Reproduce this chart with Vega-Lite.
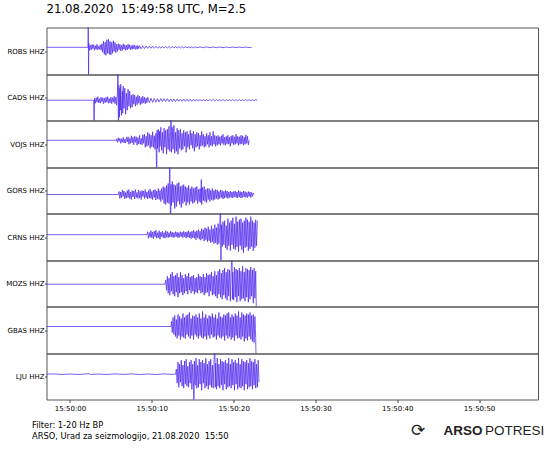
{
"$schema": "https://vega.github.io/schema/vega-lite/v6.json",
"background": "white",
"padding": {"left": 4.5, "top": 3.5, "right": 0, "bottom": 0},
"title": {"text": "21.08.2020\u00a0 15:49:58 UTC, M=2.5", "anchor": "start", "frame": "group", "font": "DejaVu Sans", "fontSize": 11.7, "fontWeight": "normal", "color": "black", "offset": 11},
"config": {
  "font": "DejaVu Sans",
  "view": {"continuousWidth": 491.5, "stroke": "#555", "strokeWidth": 1},
  "line": {"color": "#5028f0", "strokeWidth": 0.75},
  "axisY": {"tickSize": 2, "labelPadding": 0.5, "labelFont": "DejaVu Sans", "labelFontSize": 7, "labelColor": "black", "tickColor": "#444", "domain": false, "grid": false},
  "axisX": {"tickSize": 3, "labelPadding": 2, "labelFont": "DejaVu Sans", "labelFontSize": 7, "labelColor": "black", "tickColor": "#444", "domain": false, "grid": false}
},
"datasets": {
"ROBS": [{"t":-2.9,"a":0},{"t":2.2,"a":0},{"t":2.24,"a":40},{"t":2.27,"a":-40},{"t":2.3,"a":4},{"t":2.4,"a":-3},{"t":2.5,"a":2},{"t":2.6,"a":-2.5},{"t":2.7,"a":3},{"t":2.8,"a":-1.5},{"t":2.9,"a":2.5},{"t":3.0,"a":-3},{"t":3.1,"a":1.5},{"t":3.2,"a":-2},{"t":3.3,"a":3},{"t":3.4,"a":-2.5},{"t":3.5,"a":1},{"t":3.6,"a":-2},{"t":3.7,"a":2.5},{"t":3.8,"a":-3},{"t":3.9,"a":3.5},{"t":4.0,"a":-5},{"t":4.1,"a":6},{"t":4.2,"a":-7},{"t":4.3,"a":5},{"t":4.4,"a":-8},{"t":4.5,"a":7.5},{"t":4.6,"a":-6},{"t":4.7,"a":8},{"t":4.8,"a":-7},{"t":4.9,"a":6},{"t":5.0,"a":-7.5},{"t":5.1,"a":5},{"t":5.2,"a":-6},{"t":5.3,"a":6.5},{"t":5.4,"a":-4},{"t":5.5,"a":5},{"t":5.6,"a":-5.5},{"t":5.7,"a":3},{"t":5.8,"a":-4},{"t":5.9,"a":3.5},{"t":6.0,"a":-2.5},{"t":6.1,"a":3},{"t":6.2,"a":-3.5},{"t":6.3,"a":2},{"t":6.4,"a":-3},{"t":6.5,"a":3.5},{"t":6.6,"a":-2},{"t":6.7,"a":2.5},{"t":6.8,"a":-3},{"t":6.9,"a":2},{"t":7.0,"a":-2.5},{"t":7.1,"a":3},{"t":7.2,"a":-1.5},{"t":7.3,"a":2.5},{"t":7.4,"a":-2.5},{"t":7.5,"a":1.5},{"t":7.6,"a":-2},{"t":7.7,"a":2.5},{"t":7.8,"a":-1.5},{"t":7.9,"a":2},{"t":8.0,"a":-2},{"t":8.1,"a":1.5},{"t":8.2,"a":-2},{"t":8.3,"a":1.8},{"t":8.4,"a":-1.3},{"t":8.5,"a":1.6},{"t":8.7,"a":-1.5},{"t":8.9,"a":1.4},{"t":9.1,"a":-1.2},{"t":9.3,"a":1.3},{"t":9.5,"a":-1.1},{"t":9.7,"a":1.2},{"t":9.9,"a":-1.0},{"t":10.1,"a":1.1},{"t":10.3,"a":-0.9},{"t":10.5,"a":1.0},{"t":10.7,"a":-1.0},{"t":10.9,"a":0.8},{"t":11.1,"a":-0.9},{"t":11.3,"a":0.9},{"t":11.5,"a":-0.8},{"t":11.7,"a":0.8},{"t":11.9,"a":-0.7},{"t":12.1,"a":0.8},{"t":12.3,"a":-0.7},{"t":12.5,"a":0.7},{"t":12.7,"a":-0.6},{"t":12.9,"a":0.7},{"t":13.1,"a":-0.6},{"t":13.3,"a":0.6},{"t":13.5,"a":-0.6},{"t":13.7,"a":0.6},{"t":13.9,"a":-0.5},{"t":14.1,"a":0.6},{"t":14.3,"a":-0.5},{"t":14.5,"a":0.5},{"t":14.7,"a":-0.5},{"t":14.9,"a":0.5},{"t":15.1,"a":-0.5},{"t":15.3,"a":0.5},{"t":15.5,"a":-0.4},{"t":15.9,"a":0.4},{"t":16.3,"a":-0.4},{"t":16.7,"a":0.4},{"t":17.1,"a":-0.4},{"t":17.5,"a":0.35},{"t":17.9,"a":-0.35},{"t":18.3,"a":0.35},{"t":18.7,"a":-0.35},{"t":19.1,"a":0.3},{"t":19.5,"a":-0.3},{"t":19.9,"a":0.3},{"t":20.3,"a":-0.3},{"t":20.7,"a":0.3},{"t":21.1,"a":-0.3},{"t":21.5,"a":0.3},{"t":21.9,"a":-0.3},{"t":22.2,"a":0}],
"CADS": [{"t":-2.9,"a":0},{"t":2.9,"a":0},{"t":2.95,"a":-40},{"t":3.0,"a":2},{"t":3.1,"a":-3},{"t":3.2,"a":2.5},{"t":3.3,"a":-2},{"t":3.4,"a":3.5},{"t":3.5,"a":-2.5},{"t":3.6,"a":1.5},{"t":3.7,"a":-3},{"t":3.8,"a":3},{"t":3.9,"a":-1.5},{"t":4.0,"a":2.5},{"t":4.1,"a":-3.5},{"t":4.2,"a":2},{"t":4.3,"a":-2.5},{"t":4.4,"a":3},{"t":4.5,"a":-2},{"t":4.6,"a":3.5},{"t":4.7,"a":-3},{"t":4.8,"a":1.5},{"t":4.9,"a":-2.5},{"t":5.0,"a":3},{"t":5.1,"a":-3.5},{"t":5.2,"a":2.5},{"t":5.3,"a":-2},{"t":5.4,"a":4},{"t":5.5,"a":-3.5},{"t":5.6,"a":3},{"t":5.7,"a":-5},{"t":5.8,"a":8},{"t":5.87,"a":40},{"t":5.92,"a":-40},{"t":5.97,"a":15},{"t":6.05,"a":-17},{"t":6.1,"a":12},{"t":6.15,"a":-10},{"t":6.2,"a":16},{"t":6.3,"a":-15},{"t":6.4,"a":9},{"t":6.45,"a":-13},{"t":6.5,"a":14},{"t":6.6,"a":-8},{"t":6.7,"a":12},{"t":6.8,"a":-14},{"t":6.9,"a":7},{"t":7.0,"a":-10},{"t":7.1,"a":11},{"t":7.2,"a":-6},{"t":7.3,"a":9},{"t":7.4,"a":-8},{"t":7.5,"a":5},{"t":7.6,"a":-7},{"t":7.7,"a":6},{"t":7.8,"a":-4},{"t":7.9,"a":5},{"t":8.0,"a":-6},{"t":8.1,"a":3.5},{"t":8.2,"a":-4.5},{"t":8.3,"a":5},{"t":8.4,"a":-3},{"t":8.5,"a":4},{"t":8.6,"a":-4.5},{"t":8.7,"a":2.5},{"t":8.8,"a":-3.5},{"t":8.9,"a":4},{"t":9.0,"a":-2.5},{"t":9.1,"a":3},{"t":9.2,"a":-3.5},{"t":9.3,"a":2},{"t":9.4,"a":-2.5},{"t":9.5,"a":3},{"t":9.7,"a":-2.5},{"t":9.9,"a":2},{"t":10.1,"a":-2.2},{"t":10.3,"a":1.8},{"t":10.5,"a":-2},{"t":10.7,"a":1.6},{"t":10.9,"a":-1.8},{"t":11.1,"a":1.7},{"t":11.3,"a":-1.5},{"t":11.5,"a":1.6},{"t":11.7,"a":-1.4},{"t":11.9,"a":1.5},{"t":12.1,"a":-1.4},{"t":12.3,"a":1.3},{"t":12.5,"a":-1.4},{"t":12.7,"a":1.2},{"t":12.9,"a":-1.3},{"t":13.1,"a":1.2},{"t":13.3,"a":-1.2},{"t":13.5,"a":1.1},{"t":13.7,"a":-1.2},{"t":13.9,"a":1.1},{"t":14.1,"a":-1.1},{"t":14.3,"a":1.0},{"t":14.5,"a":-1.1},{"t":14.7,"a":1.0},{"t":14.9,"a":-1.0},{"t":15.1,"a":1.0},{"t":15.3,"a":-1.0},{"t":15.5,"a":0.9},{"t":15.7,"a":-1.0},{"t":15.9,"a":0.9},{"t":16.1,"a":-0.9},{"t":16.3,"a":0.9},{"t":16.5,"a":-0.9},{"t":16.7,"a":0.8},{"t":16.9,"a":-0.9},{"t":17.1,"a":0.8},{"t":17.3,"a":-0.8},{"t":17.5,"a":0.8},{"t":17.7,"a":-0.8},{"t":17.9,"a":0.8},{"t":18.1,"a":-0.8},{"t":18.3,"a":0.7},{"t":18.5,"a":-0.8},{"t":18.7,"a":0.7},{"t":18.9,"a":-0.7},{"t":19.1,"a":0.7},{"t":19.3,"a":-0.7},{"t":19.5,"a":0.7},{"t":19.7,"a":-0.7},{"t":19.9,"a":0.7},{"t":20.1,"a":-0.7},{"t":20.3,"a":0.6},{"t":20.5,"a":-0.7},{"t":20.7,"a":0.6},{"t":20.9,"a":-0.6},{"t":21.1,"a":0.6},{"t":21.3,"a":-0.6},{"t":21.5,"a":0.6},{"t":21.7,"a":-0.6},{"t":21.9,"a":0.6},{"t":22.1,"a":-0.6},{"t":22.3,"a":0.5},{"t":22.5,"a":-0.6},{"t":22.7,"a":0.5},{"t":22.9,"a":0}],
"VOJS": [{"t":-2.9,"a":0},{"t":5.66,"a":0},{"t":5.7,"a":1.5},{"t":5.8,"a":-2},{"t":5.9,"a":2.5},{"t":6.0,"a":-1},{"t":6.1,"a":2},{"t":6.2,"a":-3},{"t":6.3,"a":1.5},{"t":6.4,"a":-2},{"t":6.5,"a":3},{"t":6.6,"a":-2.5},{"t":6.7,"a":1},{"t":6.8,"a":-2.5},{"t":6.9,"a":3},{"t":7.0,"a":-1.5},{"t":7.1,"a":3.5},{"t":7.2,"a":-4},{"t":7.3,"a":2},{"t":7.4,"a":-3},{"t":7.5,"a":4.5},{"t":7.6,"a":-2.5},{"t":7.7,"a":3},{"t":7.8,"a":-4.5},{"t":7.9,"a":4},{"t":8.0,"a":-2},{"t":8.1,"a":3.5},{"t":8.2,"a":-5},{"t":8.3,"a":2.5},{"t":8.4,"a":-3.5},{"t":8.5,"a":5},{"t":8.6,"a":-4},{"t":8.7,"a":2},{"t":8.8,"a":-4.5},{"t":8.9,"a":5.5},{"t":9.0,"a":-3},{"t":9.1,"a":6},{"t":9.2,"a":-7},{"t":9.3,"a":4},{"t":9.4,"a":-6},{"t":9.5,"a":8},{"t":9.6,"a":-5},{"t":9.7,"a":6.5},{"t":9.8,"a":-8},{"t":9.9,"a":5},{"t":10.0,"a":-6.5},{"t":10.1,"a":8.5},{"t":10.2,"a":-7},{"t":10.3,"a":4.5},{"t":10.4,"a":-9},{"t":10.5,"a":7},{"t":10.6,"a":-40},{"t":10.65,"a":10},{"t":10.7,"a":-8},{"t":10.8,"a":11},{"t":10.9,"a":-12},{"t":10.95,"a":9},{"t":11.0,"a":-6},{"t":11.1,"a":13},{"t":11.2,"a":-10},{"t":11.3,"a":8},{"t":11.4,"a":-13},{"t":11.5,"a":12},{"t":11.6,"a":-7},{"t":11.7,"a":10},{"t":11.8,"a":-14},{"t":11.9,"a":11},{"t":12.0,"a":-9},{"t":12.1,"a":14},{"t":12.2,"a":-11},{"t":12.3,"a":9},{"t":12.35,"a":40},{"t":12.4,"a":-12},{"t":12.5,"a":13},{"t":12.6,"a":-9},{"t":12.7,"a":15},{"t":12.8,"a":-13},{"t":12.9,"a":8},{"t":13.0,"a":-11},{"t":13.1,"a":12},{"t":13.2,"a":-14},{"t":13.3,"a":10},{"t":13.4,"a":-8},{"t":13.5,"a":11},{"t":13.6,"a":-10},{"t":13.7,"a":7},{"t":13.8,"a":-9},{"t":13.9,"a":10},{"t":14.0,"a":-6},{"t":14.1,"a":8},{"t":14.2,"a":-12},{"t":14.3,"a":9},{"t":14.4,"a":-7},{"t":14.5,"a":6},{"t":14.6,"a":-9},{"t":14.7,"a":10},{"t":14.8,"a":-5},{"t":14.9,"a":7},{"t":15.0,"a":-8},{"t":15.1,"a":9},{"t":15.2,"a":-11},{"t":15.3,"a":6},{"t":15.4,"a":-7},{"t":15.5,"a":8},{"t":15.6,"a":-6},{"t":15.7,"a":7},{"t":15.8,"a":-9},{"t":15.9,"a":5},{"t":16.0,"a":-6},{"t":16.1,"a":9},{"t":16.2,"a":-5},{"t":16.3,"a":6},{"t":16.4,"a":-7},{"t":16.5,"a":4},{"t":16.6,"a":-6},{"t":16.7,"a":7},{"t":16.8,"a":-4},{"t":16.9,"a":5},{"t":17.0,"a":-7},{"t":17.1,"a":8},{"t":17.2,"a":-5},{"t":17.3,"a":4},{"t":17.4,"a":-6},{"t":17.5,"a":9},{"t":17.6,"a":-4},{"t":17.7,"a":5},{"t":17.8,"a":-6},{"t":17.9,"a":4},{"t":18.0,"a":-5},{"t":18.1,"a":5},{"t":18.2,"a":-4},{"t":18.3,"a":3.5},{"t":18.4,"a":-5},{"t":18.5,"a":4.5},{"t":18.6,"a":-3},{"t":18.7,"a":6},{"t":18.8,"a":-4.5},{"t":18.9,"a":3},{"t":19.0,"a":-5},{"t":19.1,"a":4},{"t":19.2,"a":-3.5},{"t":19.3,"a":5},{"t":19.4,"a":-4},{"t":19.5,"a":3},{"t":19.6,"a":-6},{"t":19.7,"a":4.5},{"t":19.8,"a":-3},{"t":19.9,"a":5},{"t":20.0,"a":-4.5},{"t":20.1,"a":3.5},{"t":20.2,"a":-4},{"t":20.3,"a":6},{"t":20.4,"a":-3},{"t":20.5,"a":4},{"t":20.6,"a":-5},{"t":20.7,"a":3.5},{"t":20.8,"a":-4},{"t":20.9,"a":5},{"t":21.0,"a":-3.5},{"t":21.1,"a":4.5},{"t":21.2,"a":-5},{"t":21.3,"a":3},{"t":21.4,"a":-4},{"t":21.5,"a":5.5},{"t":21.6,"a":-3},{"t":21.7,"a":4},{"t":21.8,"a":-4.5},{"t":21.9,"a":0}],
"GORS": [{"t":-2.9,"a":0},{"t":5.9,"a":0},{"t":6.0,"a":3},{"t":6.1,"a":-4},{"t":6.2,"a":2.5},{"t":6.3,"a":-3},{"t":6.4,"a":4.5},{"t":6.5,"a":-2},{"t":6.6,"a":3.5},{"t":6.7,"a":-4.5},{"t":6.8,"a":2},{"t":6.9,"a":-3.5},{"t":7.0,"a":4},{"t":7.1,"a":-3},{"t":7.2,"a":5},{"t":7.3,"a":-4},{"t":7.4,"a":2.5},{"t":7.5,"a":-5},{"t":7.6,"a":4},{"t":7.7,"a":-2.5},{"t":7.8,"a":3.5},{"t":7.9,"a":-4.5},{"t":8.0,"a":5},{"t":8.1,"a":-3},{"t":8.2,"a":2},{"t":8.3,"a":-4},{"t":8.4,"a":4.5},{"t":8.5,"a":-3.5},{"t":8.6,"a":3},{"t":8.7,"a":-5},{"t":8.8,"a":4},{"t":8.9,"a":-2},{"t":9.0,"a":3.5},{"t":9.1,"a":-4},{"t":9.2,"a":5},{"t":9.3,"a":-3},{"t":9.4,"a":2.5},{"t":9.5,"a":-4.5},{"t":9.6,"a":4},{"t":9.7,"a":-3.5},{"t":9.8,"a":5.5},{"t":9.9,"a":-4},{"t":10.0,"a":3},{"t":10.1,"a":-5},{"t":10.2,"a":4.5},{"t":10.3,"a":-3},{"t":10.4,"a":5},{"t":10.5,"a":-5.5},{"t":10.6,"a":3.5},{"t":10.7,"a":-4},{"t":10.8,"a":6},{"t":10.9,"a":-5},{"t":11.0,"a":4},{"t":11.1,"a":-7},{"t":11.2,"a":6},{"t":11.3,"a":-5},{"t":11.4,"a":8},{"t":11.5,"a":-9},{"t":11.6,"a":7},{"t":11.7,"a":-10},{"t":11.8,"a":9},{"t":11.9,"a":-8},{"t":12.0,"a":11},{"t":12.1,"a":-9},{"t":12.2,"a":40},{"t":12.25,"a":-12},{"t":12.3,"a":-40},{"t":12.35,"a":10},{"t":12.4,"a":-11},{"t":12.5,"a":13},{"t":12.6,"a":-8},{"t":12.7,"a":10},{"t":12.8,"a":-14},{"t":12.9,"a":9},{"t":13.0,"a":-12},{"t":13.1,"a":11},{"t":13.2,"a":-7},{"t":13.3,"a":12},{"t":13.4,"a":-10},{"t":13.5,"a":8},{"t":13.6,"a":-13},{"t":13.7,"a":9},{"t":13.8,"a":-9},{"t":13.9,"a":10},{"t":14.0,"a":-7},{"t":14.1,"a":8},{"t":14.2,"a":-11},{"t":14.3,"a":7},{"t":14.4,"a":-8},{"t":14.5,"a":9},{"t":14.6,"a":-10},{"t":14.7,"a":6},{"t":14.8,"a":-7},{"t":14.9,"a":8},{"t":15.0,"a":-9},{"t":15.1,"a":6},{"t":15.2,"a":-8},{"t":15.3,"a":7},{"t":15.4,"a":-6},{"t":15.5,"a":8},{"t":15.6,"a":-9},{"t":15.7,"a":5},{"t":15.8,"a":-7},{"t":15.9,"a":6},{"t":16.0,"a":-8},{"t":16.05,"a":15},{"t":16.1,"a":-10},{"t":16.2,"a":7},{"t":16.3,"a":-6},{"t":16.4,"a":8},{"t":16.5,"a":-7},{"t":16.6,"a":5},{"t":16.7,"a":-8},{"t":16.8,"a":6},{"t":16.9,"a":-5},{"t":17.0,"a":6},{"t":17.1,"a":-7},{"t":17.2,"a":4},{"t":17.3,"a":-5},{"t":17.4,"a":6},{"t":17.5,"a":-6},{"t":17.6,"a":4},{"t":17.7,"a":-5},{"t":17.8,"a":5},{"t":17.9,"a":-4},{"t":18.0,"a":4.5},{"t":18.1,"a":-5},{"t":18.2,"a":3},{"t":18.3,"a":-4},{"t":18.4,"a":4.5},{"t":18.5,"a":-3},{"t":18.6,"a":4},{"t":18.7,"a":-4.5},{"t":18.8,"a":3},{"t":18.9,"a":-3.5},{"t":19.0,"a":4},{"t":19.1,"a":-3},{"t":19.2,"a":3.5},{"t":19.3,"a":-4},{"t":19.4,"a":2.5},{"t":19.5,"a":-3},{"t":19.6,"a":3.5},{"t":19.7,"a":-3},{"t":19.8,"a":2.5},{"t":19.9,"a":-3.5},{"t":20.0,"a":3},{"t":20.1,"a":-2.5},{"t":20.2,"a":3.5},{"t":20.3,"a":-3},{"t":20.4,"a":2.5},{"t":20.5,"a":-3.5},{"t":20.6,"a":4},{"t":20.7,"a":-2.5},{"t":20.8,"a":3},{"t":20.9,"a":-3.5},{"t":21.0,"a":2.5},{"t":21.1,"a":-3},{"t":21.2,"a":3.5},{"t":21.3,"a":-2.5},{"t":21.4,"a":3},{"t":21.5,"a":-3},{"t":21.6,"a":2},{"t":21.7,"a":-3},{"t":21.8,"a":3},{"t":21.9,"a":-2},{"t":22.0,"a":2.5},{"t":22.1,"a":-3},{"t":22.2,"a":2},{"t":22.3,"a":-2},{"t":22.4,"a":1.5},{"t":22.5,"a":0}],
"CRNS": [{"t":-2.9,"a":0},{"t":9.4,"a":0},{"t":9.5,"a":3},{"t":9.6,"a":-3.5},{"t":9.7,"a":2},{"t":9.8,"a":-2.5},{"t":9.9,"a":4},{"t":10.0,"a":-3},{"t":10.1,"a":2.5},{"t":10.2,"a":-4},{"t":10.3,"a":3.5},{"t":10.4,"a":-2},{"t":10.5,"a":4.5},{"t":10.6,"a":-3.5},{"t":10.7,"a":2},{"t":10.8,"a":-3},{"t":10.9,"a":4},{"t":11.0,"a":-4.5},{"t":11.1,"a":2.5},{"t":11.2,"a":-2},{"t":11.3,"a":3.5},{"t":11.4,"a":-3},{"t":11.5,"a":2},{"t":11.6,"a":-3.5},{"t":11.7,"a":4},{"t":11.8,"a":-2.5},{"t":11.9,"a":3},{"t":12.0,"a":-3},{"t":12.1,"a":2},{"t":12.2,"a":-2.5},{"t":12.3,"a":3.5},{"t":12.4,"a":-2},{"t":12.5,"a":2.5},{"t":12.6,"a":-3},{"t":12.7,"a":2},{"t":12.8,"a":-2.5},{"t":12.9,"a":3},{"t":13.0,"a":-2},{"t":13.1,"a":2.5},{"t":13.2,"a":-3},{"t":13.3,"a":2},{"t":13.4,"a":-2.5},{"t":13.5,"a":3},{"t":13.6,"a":-2},{"t":13.7,"a":2.5},{"t":13.8,"a":-3},{"t":13.9,"a":3.5},{"t":14.0,"a":-2},{"t":14.1,"a":2.5},{"t":14.2,"a":-3.5},{"t":14.3,"a":3},{"t":14.4,"a":-2.5},{"t":14.5,"a":4},{"t":14.6,"a":-3},{"t":14.7,"a":2.5},{"t":14.8,"a":-4},{"t":14.9,"a":3.5},{"t":15.0,"a":-3},{"t":15.1,"a":4.5},{"t":15.2,"a":-3.5},{"t":15.3,"a":3},{"t":15.4,"a":-5},{"t":15.5,"a":4},{"t":15.6,"a":-3},{"t":15.7,"a":5},{"t":15.8,"a":-4.5},{"t":15.9,"a":3.5},{"t":16.0,"a":-5.5},{"t":16.1,"a":6},{"t":16.2,"a":-4},{"t":16.3,"a":5},{"t":16.4,"a":-6.5},{"t":16.5,"a":7},{"t":16.6,"a":-5},{"t":16.7,"a":6},{"t":16.8,"a":-7},{"t":16.9,"a":8},{"t":17.0,"a":-6},{"t":17.1,"a":5},{"t":17.2,"a":-8},{"t":17.3,"a":9},{"t":17.4,"a":-7},{"t":17.5,"a":6},{"t":17.6,"a":-9},{"t":17.7,"a":10},{"t":17.8,"a":-8},{"t":17.9,"a":7},{"t":18.0,"a":-10},{"t":18.1,"a":11},{"t":18.2,"a":-9},{"t":18.3,"a":8},{"t":18.4,"a":40},{"t":18.45,"a":-40},{"t":18.5,"a":10},{"t":18.6,"a":-12},{"t":18.7,"a":13},{"t":18.8,"a":-10},{"t":18.9,"a":14},{"t":19.0,"a":-13},{"t":19.1,"a":9},{"t":19.2,"a":-15},{"t":19.3,"a":16},{"t":19.4,"a":-11},{"t":19.5,"a":12},{"t":19.6,"a":-16},{"t":19.7,"a":14},{"t":19.8,"a":-10},{"t":19.9,"a":17},{"t":20.0,"a":-14},{"t":20.1,"a":11},{"t":20.2,"a":-15},{"t":20.3,"a":18},{"t":20.4,"a":-12},{"t":20.5,"a":13},{"t":20.6,"a":-17},{"t":20.7,"a":15},{"t":20.8,"a":-11},{"t":20.9,"a":16},{"t":21.0,"a":-15},{"t":21.1,"a":12},{"t":21.2,"a":-18},{"t":21.3,"a":14},{"t":21.4,"a":-13},{"t":21.5,"a":17},{"t":21.6,"a":-12},{"t":21.7,"a":15},{"t":21.8,"a":-16},{"t":21.9,"a":13},{"t":22.0,"a":-14},{"t":22.1,"a":18},{"t":22.2,"a":-12},{"t":22.3,"a":14},{"t":22.4,"a":-16},{"t":22.5,"a":12},{"t":22.6,"a":-13},{"t":22.7,"a":15},{"t":22.8,"a":-11},{"t":22.9,"a":14}],
"MOZS": [{"t":-2.9,"a":0},{"t":11.6,"a":0},{"t":11.7,"a":4},{"t":11.8,"a":-6},{"t":11.9,"a":8},{"t":12.0,"a":-9},{"t":12.1,"a":6},{"t":12.2,"a":-11},{"t":12.3,"a":10},{"t":12.4,"a":-7},{"t":12.5,"a":12},{"t":12.6,"a":-10},{"t":12.7,"a":8},{"t":12.8,"a":-12},{"t":12.9,"a":9},{"t":13.0,"a":-8},{"t":13.1,"a":11},{"t":13.2,"a":-13},{"t":13.3,"a":7},{"t":13.4,"a":-9},{"t":13.5,"a":12},{"t":13.6,"a":-8},{"t":13.7,"a":9},{"t":13.8,"a":-11},{"t":13.9,"a":6},{"t":14.0,"a":-9},{"t":14.1,"a":10},{"t":14.2,"a":-7},{"t":14.3,"a":8},{"t":14.4,"a":-10},{"t":14.5,"a":11},{"t":14.6,"a":-6},{"t":14.7,"a":7},{"t":14.8,"a":-9},{"t":14.9,"a":8},{"t":15.0,"a":-7},{"t":15.1,"a":9},{"t":15.2,"a":-10},{"t":15.3,"a":6},{"t":15.4,"a":-8},{"t":15.5,"a":7},{"t":15.6,"a":-9},{"t":15.7,"a":10},{"t":15.8,"a":-6},{"t":15.9,"a":8},{"t":16.0,"a":-9},{"t":16.1,"a":7},{"t":16.2,"a":-8},{"t":16.3,"a":10},{"t":16.4,"a":-11},{"t":16.5,"a":7},{"t":16.6,"a":-9},{"t":16.7,"a":11},{"t":16.8,"a":-8},{"t":16.9,"a":9},{"t":17.0,"a":-12},{"t":17.1,"a":10},{"t":17.2,"a":-7},{"t":17.3,"a":12},{"t":17.4,"a":-11},{"t":17.5,"a":8},{"t":17.6,"a":-10},{"t":17.7,"a":13},{"t":17.8,"a":-12},{"t":17.9,"a":9},{"t":18.0,"a":-14},{"t":18.1,"a":13},{"t":18.2,"a":-10},{"t":18.3,"a":15},{"t":18.4,"a":-13},{"t":18.5,"a":11},{"t":18.6,"a":-15},{"t":18.7,"a":14},{"t":18.8,"a":-11},{"t":18.9,"a":16},{"t":19.0,"a":-14},{"t":19.1,"a":12},{"t":19.2,"a":-16},{"t":19.3,"a":15},{"t":19.4,"a":-12},{"t":19.5,"a":14},{"t":19.6,"a":-17},{"t":19.7,"a":13},{"t":19.8,"a":40},{"t":19.85,"a":-15},{"t":19.9,"a":12},{"t":20.0,"a":-16},{"t":20.1,"a":17},{"t":20.2,"a":-13},{"t":20.3,"a":15},{"t":20.4,"a":-18},{"t":20.5,"a":14},{"t":20.6,"a":-12},{"t":20.7,"a":16},{"t":20.8,"a":-17},{"t":20.9,"a":13},{"t":21.0,"a":-15},{"t":21.1,"a":18},{"t":21.2,"a":-14},{"t":21.3,"a":12},{"t":21.4,"a":-17},{"t":21.5,"a":16},{"t":21.6,"a":-13},{"t":21.7,"a":15},{"t":21.8,"a":-18},{"t":21.9,"a":14},{"t":22.0,"a":-15},{"t":22.1,"a":17},{"t":22.2,"a":-12},{"t":22.3,"a":14},{"t":22.4,"a":-19},{"t":22.5,"a":16},{"t":22.6,"a":-14},{"t":22.7,"a":13},{"t":22.8,"a":-40}],
"GBAS": [{"t":-2.9,"a":0},{"t":12.35,"a":0},{"t":12.4,"a":5},{"t":12.5,"a":-6},{"t":12.6,"a":9},{"t":12.7,"a":-8},{"t":12.8,"a":11},{"t":12.9,"a":-10},{"t":13.0,"a":7},{"t":13.1,"a":-12},{"t":13.2,"a":12},{"t":13.3,"a":-9},{"t":13.4,"a":10},{"t":13.5,"a":-13},{"t":13.6,"a":8},{"t":13.7,"a":-10},{"t":13.8,"a":13},{"t":13.9,"a":-11},{"t":14.0,"a":9},{"t":14.1,"a":-12},{"t":14.2,"a":11},{"t":14.3,"a":-8},{"t":14.4,"a":12},{"t":14.5,"a":-10},{"t":14.6,"a":14},{"t":14.7,"a":-12},{"t":14.8,"a":8},{"t":14.9,"a":-9},{"t":15.0,"a":11},{"t":15.1,"a":-13},{"t":15.2,"a":10},{"t":15.3,"a":-8},{"t":15.4,"a":12},{"t":15.5,"a":-10},{"t":15.6,"a":9},{"t":15.7,"a":-12},{"t":15.8,"a":13},{"t":15.9,"a":-9},{"t":16.0,"a":8},{"t":16.1,"a":-11},{"t":16.2,"a":15},{"t":16.3,"a":-12},{"t":16.4,"a":9},{"t":16.5,"a":-10},{"t":16.6,"a":12},{"t":16.7,"a":-13},{"t":16.8,"a":8},{"t":16.9,"a":-9},{"t":17.0,"a":11},{"t":17.1,"a":-12},{"t":17.2,"a":10},{"t":17.3,"a":-8},{"t":17.4,"a":13},{"t":17.5,"a":-11},{"t":17.6,"a":9},{"t":17.7,"a":-10},{"t":17.8,"a":12},{"t":17.9,"a":-13},{"t":18.0,"a":8},{"t":18.1,"a":-9},{"t":18.2,"a":14},{"t":18.3,"a":-11},{"t":18.4,"a":10},{"t":18.5,"a":-12},{"t":18.6,"a":9},{"t":18.7,"a":-10},{"t":18.8,"a":12},{"t":18.9,"a":-14},{"t":19.0,"a":11},{"t":19.1,"a":-9},{"t":19.2,"a":13},{"t":19.3,"a":-12},{"t":19.4,"a":14},{"t":19.5,"a":-10},{"t":19.6,"a":9},{"t":19.7,"a":-13},{"t":19.8,"a":12},{"t":19.9,"a":-11},{"t":20.0,"a":10},{"t":20.1,"a":-14},{"t":20.2,"a":13},{"t":20.3,"a":-9},{"t":20.4,"a":11},{"t":20.5,"a":-12},{"t":20.6,"a":15},{"t":20.7,"a":-11},{"t":20.8,"a":9},{"t":20.9,"a":-13},{"t":21.0,"a":14},{"t":21.1,"a":-10},{"t":21.2,"a":12},{"t":21.3,"a":-15},{"t":21.4,"a":11},{"t":21.5,"a":-12},{"t":21.6,"a":13},{"t":21.7,"a":-14},{"t":21.8,"a":12},{"t":21.9,"a":-10},{"t":22.0,"a":14},{"t":22.1,"a":-13},{"t":22.2,"a":11},{"t":22.3,"a":-15},{"t":22.4,"a":12},{"t":22.5,"a":-16},{"t":22.6,"a":10},{"t":22.7,"a":-12},{"t":22.75,"a":-40}],
"LJU": [{"t":-2.9,"a":0},{"t":-2,"a":0.3},{"t":-1,"a":-0.3},{"t":0,"a":0.2},{"t":1,"a":-0.3},{"t":2,"a":0.3},{"t":2.3,"a":0.6},{"t":2.5,"a":-0.3},{"t":3.5,"a":0.2},{"t":4.5,"a":-0.3},{"t":5.5,"a":0.3},{"t":6.5,"a":-0.2},{"t":7.5,"a":0.3},{"t":8.5,"a":-0.3},{"t":9.5,"a":0.2},{"t":10.5,"a":-0.3},{"t":11.5,"a":0.3},{"t":12.5,"a":-0.2},{"t":12.9,"a":0},{"t":13.0,"a":5},{"t":13.1,"a":-9},{"t":13.2,"a":12},{"t":13.3,"a":-13},{"t":13.4,"a":10},{"t":13.5,"a":-8},{"t":13.6,"a":14},{"t":13.7,"a":-12},{"t":13.8,"a":9},{"t":13.9,"a":-14},{"t":14.0,"a":13},{"t":14.1,"a":-10},{"t":14.2,"a":15},{"t":14.3,"a":-12},{"t":14.4,"a":8},{"t":14.5,"a":-13},{"t":14.6,"a":12},{"t":14.7,"a":-9},{"t":14.8,"a":14},{"t":14.9,"a":-15},{"t":15.0,"a":10},{"t":15.1,"a":-12},{"t":15.15,"a":-40},{"t":15.2,"a":13},{"t":15.3,"a":-11},{"t":15.4,"a":16},{"t":15.5,"a":-14},{"t":15.6,"a":9},{"t":15.7,"a":-13},{"t":15.8,"a":15},{"t":15.9,"a":-10},{"t":16.0,"a":12},{"t":16.1,"a":-16},{"t":16.2,"a":14},{"t":16.3,"a":-9},{"t":16.4,"a":11},{"t":16.5,"a":-14},{"t":16.6,"a":16},{"t":16.7,"a":-12},{"t":16.8,"a":10},{"t":16.9,"a":-15},{"t":17.0,"a":13},{"t":17.1,"a":-11},{"t":17.2,"a":15},{"t":17.3,"a":-13},{"t":17.4,"a":9},{"t":17.5,"a":-14},{"t":17.6,"a":12},{"t":17.7,"a":40},{"t":17.75,"a":-13},{"t":17.8,"a":11},{"t":17.9,"a":-15},{"t":18.0,"a":16},{"t":18.1,"a":-12},{"t":18.2,"a":10},{"t":18.3,"a":-14},{"t":18.4,"a":15},{"t":18.5,"a":-11},{"t":18.6,"a":13},{"t":18.7,"a":-16},{"t":18.8,"a":12},{"t":18.9,"a":-10},{"t":19.0,"a":14},{"t":19.1,"a":-15},{"t":19.2,"a":11},{"t":19.3,"a":-13},{"t":19.4,"a":16},{"t":19.5,"a":-12},{"t":19.6,"a":10},{"t":19.7,"a":-14},{"t":19.8,"a":15},{"t":19.9,"a":-11},{"t":20.0,"a":12},{"t":20.1,"a":-16},{"t":20.2,"a":14},{"t":20.3,"a":-10},{"t":20.4,"a":11},{"t":20.5,"a":-15},{"t":20.6,"a":16},{"t":20.7,"a":-13},{"t":20.8,"a":10},{"t":20.9,"a":-14},{"t":21.0,"a":15},{"t":21.1,"a":-12},{"t":21.2,"a":13},{"t":21.3,"a":-16},{"t":21.4,"a":12},{"t":21.5,"a":-10},{"t":21.6,"a":14},{"t":21.7,"a":-15},{"t":21.8,"a":11},{"t":21.9,"a":-13},{"t":22.0,"a":16},{"t":22.1,"a":-12},{"t":22.2,"a":13},{"t":22.3,"a":-15},{"t":22.4,"a":12},{"t":22.5,"a":-11},{"t":22.6,"a":15},{"t":22.7,"a":-14},{"t":22.8,"a":10},{"t":22.9,"a":-13},{"t":23.0,"a":14},{"t":23.1,"a":-8}]
},
"spacing": 0,
"bounds": "flush",
"vconcat": [
{"data": {"name": "ROBS"}, "height": 47, "mark": {"type": "line", "clip": true}, "encoding": {"x": {"field": "t", "type": "quantitative", "scale": {"domain": [-2.87, 57.2], "nice": false, "zero": false}, "axis": null}, "y": {"field": "a", "type": "quantitative", "title": null, "scale": {"domain": [-27.2, 19.8], "nice": false, "zero": false}, "axis": {"values": [-3.7], "labelExpr": "'ROBS HHZ'"}}}},
{"data": {"name": "CADS"}, "height": 46, "mark": {"type": "line", "clip": true}, "encoding": {"x": {"field": "t", "type": "quantitative", "scale": {"domain": [-2.87, 57.2], "nice": false, "zero": false}, "axis": null}, "y": {"field": "a", "type": "quantitative", "title": null, "scale": {"domain": [-20.3, 25.7], "nice": false, "zero": false}, "axis": {"values": [2.7], "labelExpr": "'CADS HHZ'"}}}},
{"data": {"name": "VOJS"}, "height": 47, "mark": {"type": "line", "clip": true}, "encoding": {"x": {"field": "t", "type": "quantitative", "scale": {"domain": [-2.87, 57.2], "nice": false, "zero": false}, "axis": null}, "y": {"field": "a", "type": "quantitative", "title": null, "scale": {"domain": [-27.2, 19.8], "nice": false, "zero": false}, "axis": {"values": [-3.7], "labelExpr": "'VOJS HHZ'"}}}},
{"data": {"name": "GORS"}, "height": 46, "mark": {"type": "line", "clip": true}, "encoding": {"x": {"field": "t", "type": "quantitative", "scale": {"domain": [-2.87, 57.2], "nice": false, "zero": false}, "axis": null}, "y": {"field": "a", "type": "quantitative", "title": null, "scale": {"domain": [-19, 27], "nice": false, "zero": false}, "axis": {"values": [4], "labelExpr": "'GORS HHZ'"}}}},
{"data": {"name": "CRNS"}, "height": 47, "mark": {"type": "line", "clip": true}, "encoding": {"x": {"field": "t", "type": "quantitative", "scale": {"domain": [-2.87, 57.2], "nice": false, "zero": false}, "axis": null}, "y": {"field": "a", "type": "quantitative", "title": null, "scale": {"domain": [-25.8, 21.2], "nice": false, "zero": false}, "axis": {"values": [-2.3], "labelExpr": "'CRNS HHZ'"}}}},
{"data": {"name": "MOZS"}, "height": 46, "mark": {"type": "line", "clip": true}, "encoding": {"x": {"field": "t", "type": "quantitative", "scale": {"domain": [-2.87, 57.2], "nice": false, "zero": false}, "axis": null}, "y": {"field": "a", "type": "quantitative", "title": null, "scale": {"domain": [-22.3, 23.7], "nice": false, "zero": false}, "axis": {"values": [0.7], "labelExpr": "'MOZS HHZ'"}}}},
{"data": {"name": "GBAS"}, "height": 47, "mark": {"type": "line", "clip": true}, "encoding": {"x": {"field": "t", "type": "quantitative", "scale": {"domain": [-2.87, 57.2], "nice": false, "zero": false}, "axis": null}, "y": {"field": "a", "type": "quantitative", "title": null, "scale": {"domain": [-27, 20], "nice": false, "zero": false}, "axis": {"values": [-3.5], "labelExpr": "'GBAS HHZ'"}}}},
{"data": {"name": "LJU"}, "height": 46,
 "layer": [
  {"mark": {"type": "line", "clip": true},
   "encoding": {
    "x": {"field": "t", "type": "quantitative", "scale": {"domain": [-2.87, 57.2], "nice": false, "zero": false},
          "axis": {"values": [0, 10, 20, 30, 40, 50], "labelExpr": "'15:50:' + (datum.value < 10 ? '0' : '') + datum.value",
                   "title": ["Filter: 1-20 Hz BP", "\u00a0ARSO, Urad za seizmologijo, 21.08.2020\u00a0 15:50"],
                   "titleFont": "DejaVu Sans", "titleFontSize": 8.3, "titleFontWeight": "normal", "titleColor": "black",
                   "titleAlign": "left", "titleAngle": 0, "titleBaseline": "alphabetic", "titleLineHeight": 10.5, "titleX": -15, "titleY": 28}},
    "y": {"field": "a", "type": "quantitative", "scale": {"domain": [-25.3, 20.7], "nice": false, "zero": false},
          "axis": {"values": [-2.3], "labelExpr": "'LJU HHZ'", "title": "ARSO", "titleFont": "Liberation Sans", "titleFontSize": 13.5, "titleFontWeight": "bold", "titleColor": "#222", "titleAngle": 0, "titleAlign": "left", "titleBaseline": "alphabetic", "titleX": 396.5, "titleY": 80.5}}
   }},
  {"mark": {"type": "line", "opacity": 0},
   "encoding": {
    "x": {"field": "t", "type": "quantitative",
          "axis": {"orient": "top", "title": "\u27f3", "labels": false, "ticks": false, "domain": false, "grid": false, "titleFont": "DejaVu Sans", "titleFontSize": 17, "titleFontWeight": "normal", "titleColor": "#222", "titleAngle": 0, "titleAlign": "center", "titleBaseline": "alphabetic", "titleX": 371, "titleY": 82}},
    "y": {"field": "a", "type": "quantitative",
          "axis": {"orient": "right", "title": "POTRESI", "labels": false, "ticks": false, "domain": false, "grid": false, "titleFont": "Liberation Sans", "titleFontSize": 13.5, "titleFontWeight": "normal", "titleColor": "#222", "titleAngle": 0, "titleAlign": "left", "titleBaseline": "alphabetic", "titleX": -53.5, "titleY": 80.5}}
   }}
 ],
 "resolve": {"axis": {"x": "independent", "y": "independent"}}
}
]
}
